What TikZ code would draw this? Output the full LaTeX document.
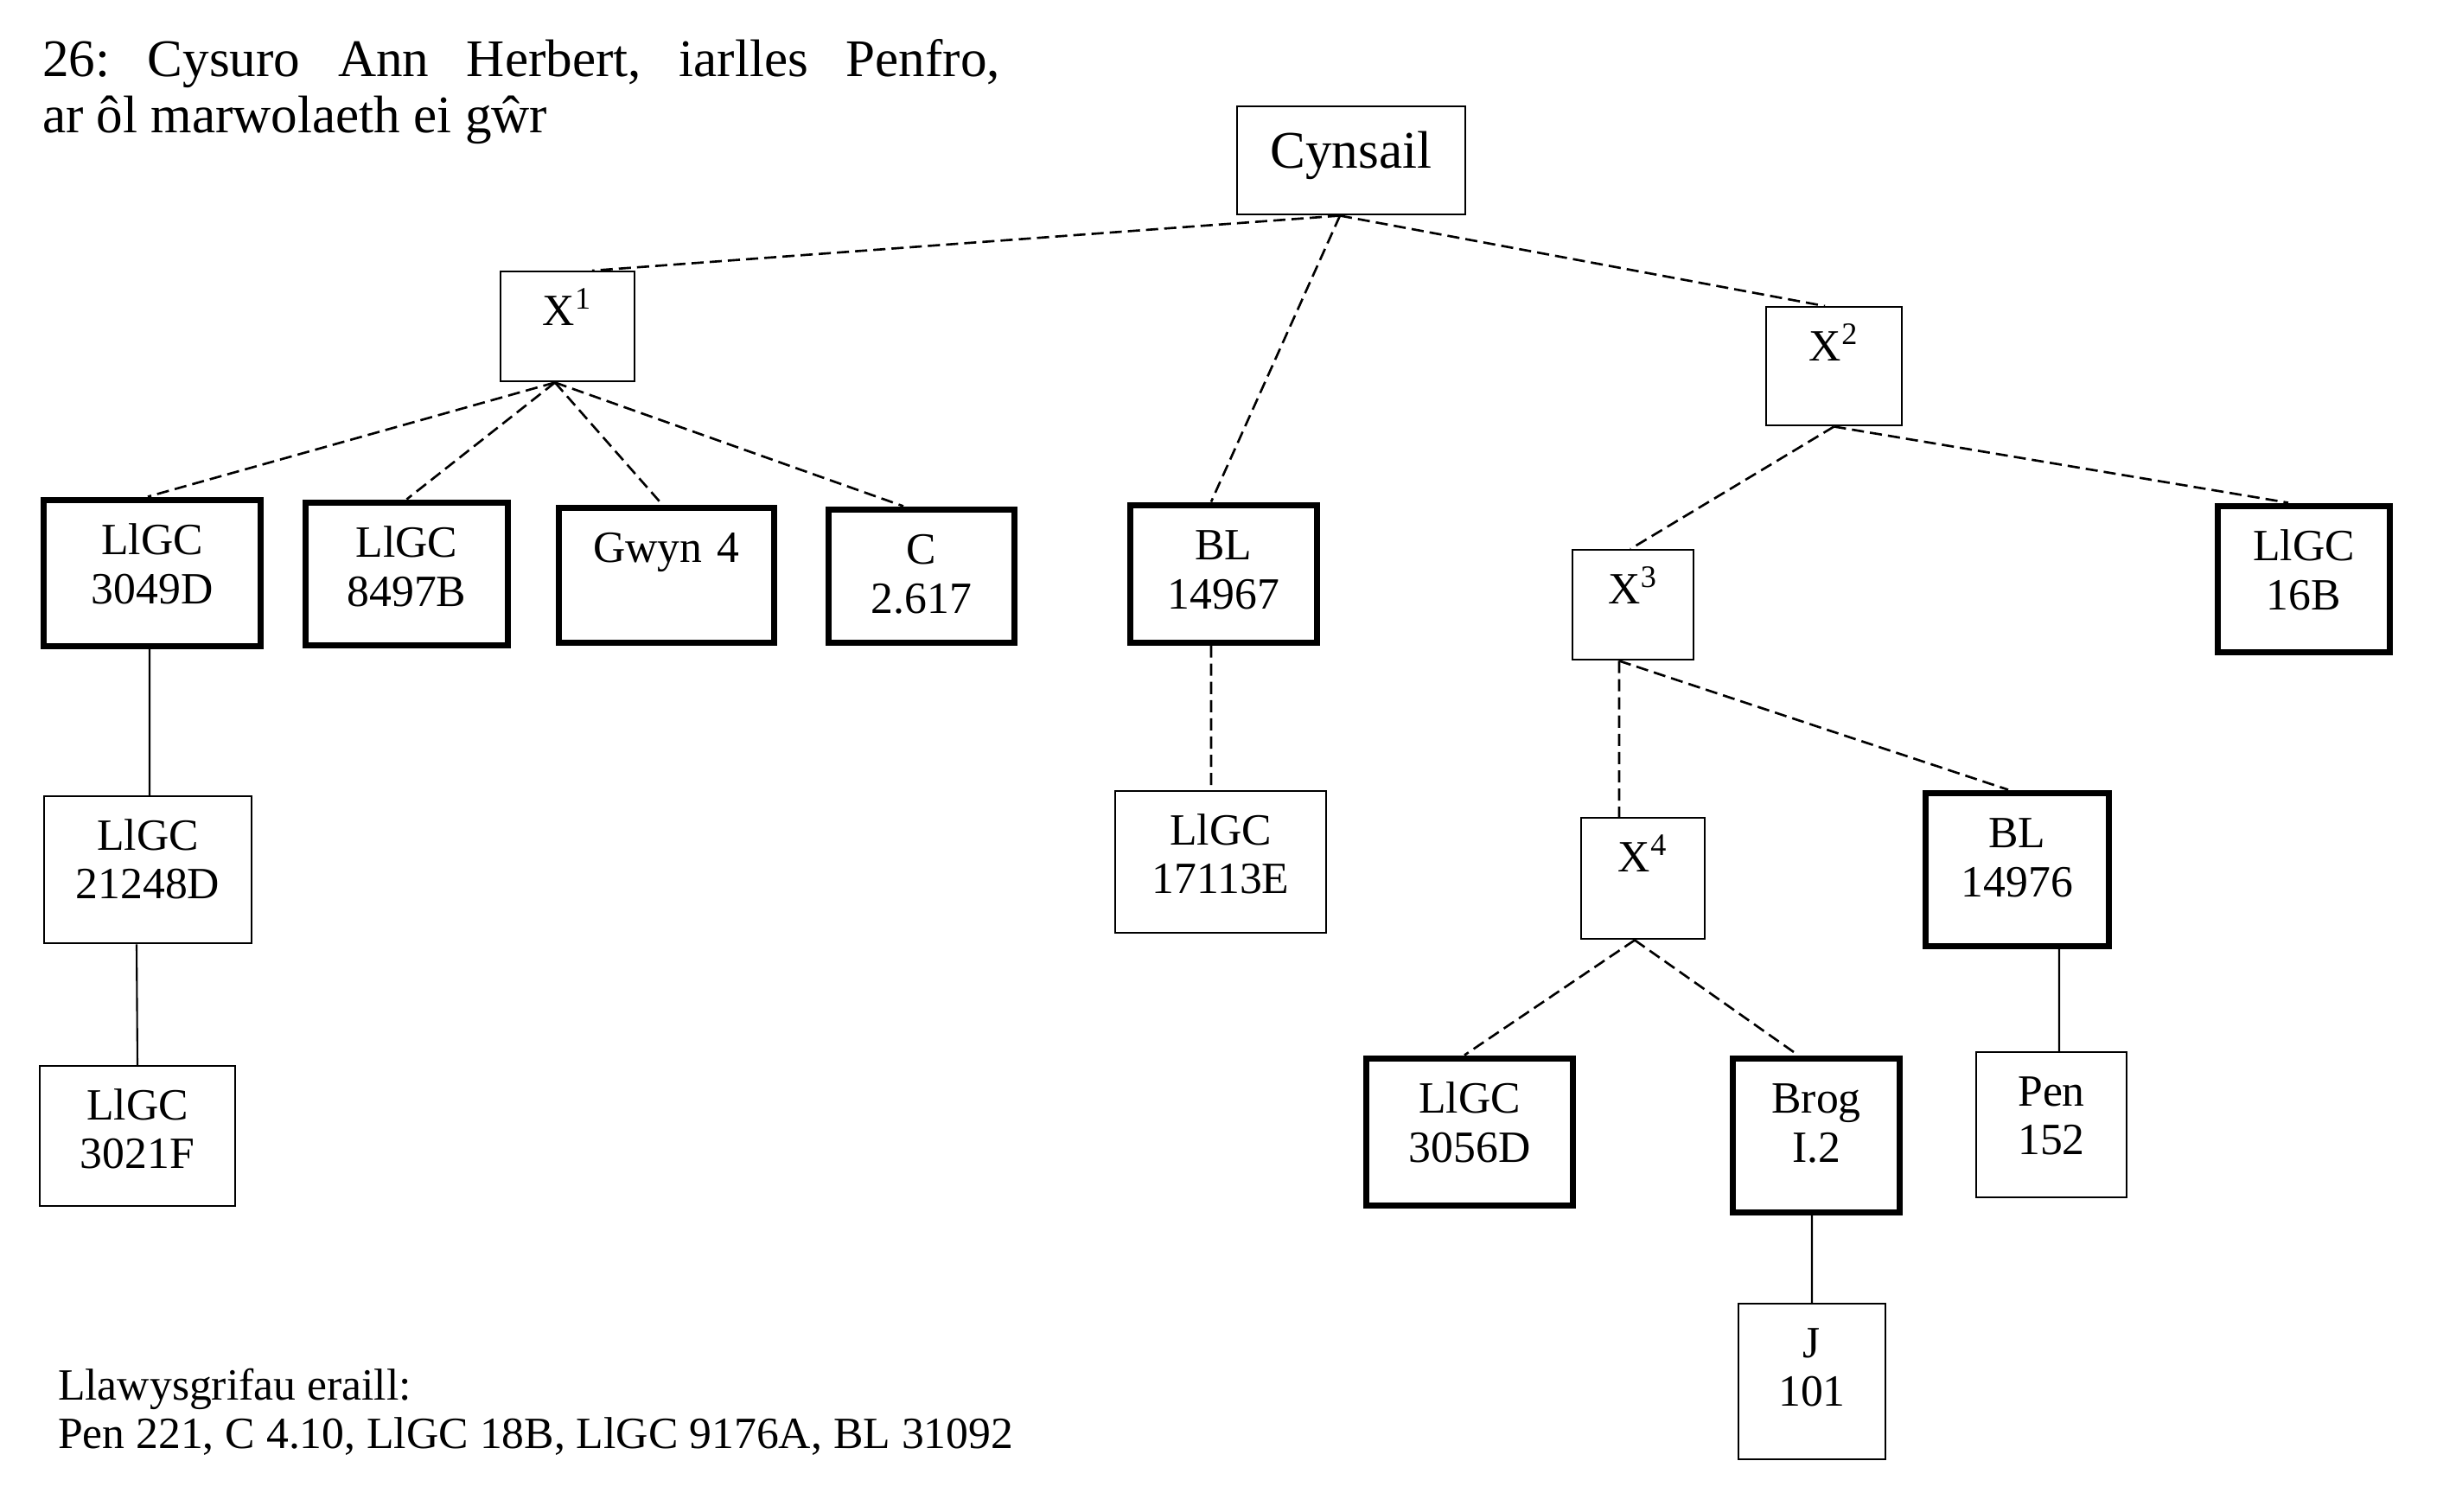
\documentclass[tikz,border=0pt]{standalone}
\usepackage{fontspec}
\setmainfont{Liberation Serif}

\begin{document}
\frenchspacing
\begin{tikzpicture}[line width=0.6pt,
	ms/.style 2 args={draw, line width=0.7pt, inner sep=0pt, anchor=north, align=center,
		font=\fontsize{14.7}{16.1}\selectfont, text width=#1cm, text height=0.62cm, text depth=#2cm},
	msbold/.style 2 args={ms={#1}{#2}, line width=2pt, text height=0.635cm},
	conj/.style={line width=0.75pt, dash pattern=on 4pt off 2pt}]
	\useasboundingbox (0,0) rectangle (28.26,-17.48);

	\node[anchor=base west, inner sep=0pt, text width=11.08cm, align=justify,
		font=\fontsize{17.4}{18.5}\selectfont] (title) at (0.48,-0.88)
		{26: Cysuro Ann Herbert, iarlles Penfro,\linebreak ar ôl marwolaeth ei gŵr};
	\node[anchor=base west, inner sep=0pt, text width=14cm, align=flush left,
		font=\fontsize{14.7}{16.1}\selectfont] (others) at (0.66,-16.19)
		{Llawysgrifau eraill:\\Pen 221, C 4.10, LlGC 18B, LlGC 9176A, BL 31092};

	\node[ms={2.64}{0.54}, font=\fontsize{17.4}{18.5}\selectfont, text height=0.71cm] (cyn) at (15.63,-1.22) {Cynsail};

	\node[ms={1.55}{0.65}] (x1) at (6.565,-3.13) {X\textsuperscript{1}};
	\node[ms={1.57}{0.75}] (x2) at (21.215,-3.54) {X\textsuperscript{2}};
	\node[ms={1.40}{0.65}] (x3) at (18.89,-6.35) {X\textsuperscript{3}};
	\node[ms={1.43}{0.78}] (x4) at (19.005,-9.45) {X\textsuperscript{4}};

	\node[msbold={2.51}{1.055}] (m3049) at (1.76,-5.745) {LlGC\\3049D};
	\node[msbold={2.34}{1.015}] (m8497) at (4.705,-5.775) {LlGC\\8497B};
	\node[msbold={2.49}{0.925}] (gwyn4) at (7.71,-5.835) {Gwyn 4};
	\node[msbold={2.15}{0.905}] (c2617) at (10.66,-5.855) {C\\2.617};
	\node[msbold={2.16}{0.955}] (bl14967) at (14.155,-5.805) {BL\\14967};
	\node[msbold={1.99}{1.055}] (m16b) at (26.65,-5.815) {LlGC\\16B};
	\node[msbold={2.12}{1.135}] (bl14976) at (23.335,-9.135) {BL\\14976};
	\node[msbold={2.39}{1.065}] (m3056) at (17.00,-12.205) {LlGC\\3056D};
	\node[msbold={1.93}{1.145}] (brog) at (21.01,-12.205) {Brog\\I.2};

	\node[ms={2.40}{1.08}] (m21248) at (1.71,-9.20) {LlGC\\21248D};
	\node[ms={2.26}{1.00}] (m3021) at (1.59,-12.32) {LlGC\\3021F};
	\node[ms={2.44}{1.02}] (m17113) at (14.12,-9.14) {LlGC\\17113E};
	\node[ms={1.74}{1.06}] (pen152) at (23.73,-12.16) {Pen\\152};
	\node[ms={1.70}{1.18}] (j101) at (20.96,-15.07) {J\\101};

	% Cynsail and the lost copies
	\draw[conj] ([xshift=-0.13cm]cyn.south) -- ([xshift=0.285cm]x1.north);
	\draw[conj] ([xshift=-0.13cm]cyn.south) -- ([xshift=-0.145cm]bl14967.north);
	\draw[conj] ([xshift=-0.13cm]cyn.south) -- ([xshift=-0.105cm]x2.north);

	\draw[conj] ([xshift=-0.145cm]x1.south) -- ([xshift=-0.05cm]m3049.north);
	\draw[conj] ([xshift=-0.145cm]x1.south) -- (m8497.north);
	\draw[conj] ([xshift=-0.145cm]x1.south) -- ([xshift=-0.05cm]gwyn4.north);
	\draw[conj] ([xshift=-0.145cm]x1.south) -- ([xshift=-0.21cm]c2617.north);

	\draw[conj] ([xshift=-0.145cm]bl14967.south) -- ([xshift=-0.11cm]m17113.north);

	\draw[conj] (x2.south) -- ([xshift=-0.03cm]x3.north);
	\draw[conj] (x2.south) -- ([xshift=-0.18cm]m16b.north);
	\draw[conj] ([xshift=-0.16cm]x3.south) -- ([xshift=-0.275cm]x4.north);
	\draw[conj] ([xshift=-0.16cm]x3.south) -- ([xshift=-0.105cm]bl14976.north);
	\draw[conj] ([xshift=-0.095cm]x4.south) -- ([xshift=-0.06cm]m3056.north);
	\draw[conj] ([xshift=-0.095cm]x4.south) -- ([xshift=-0.21cm]brog.north);

	% direct copies
	\draw ([xshift=-0.03cm]m3049.south) -- ([xshift=0.02cm]m21248.north);
	\draw ([xshift=-0.13cm]m21248.south) -- (m3021.north);
	\draw ([xshift=0.485cm]bl14976.south) -- ([xshift=0.09cm]pen152.north);
	\draw ([xshift=-0.05cm]brog.south) -- (j101.north);
\end{tikzpicture}
\end{document}
